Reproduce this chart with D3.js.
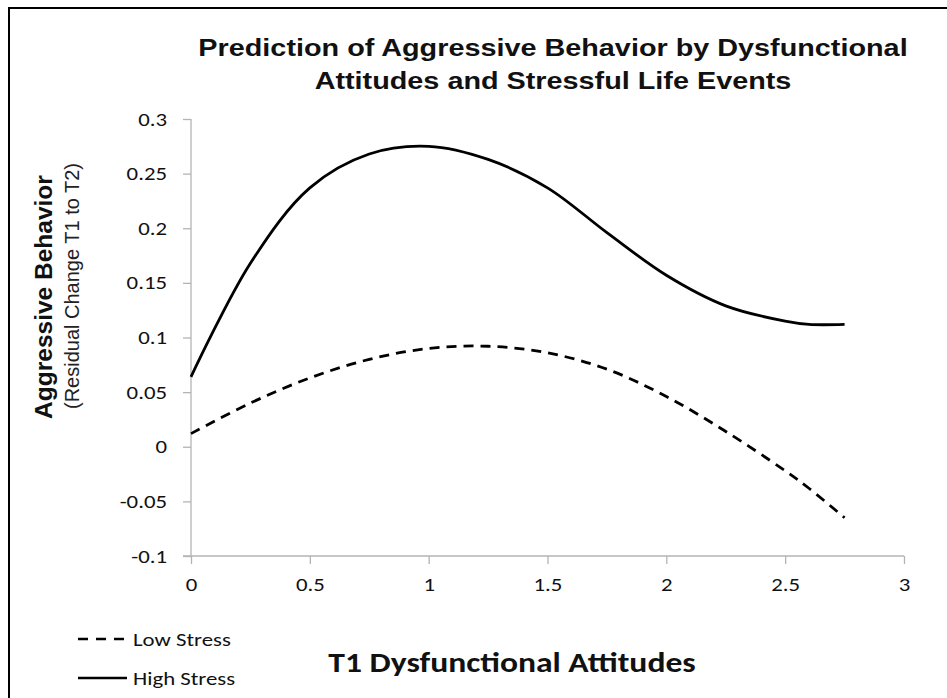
<!DOCTYPE html>
<html>
<head>
<meta charset="utf-8">
<script src="https://cdn.jsdelivr.net/npm/d3@7"></script>
<style>
  body { margin: 0; background: #fff; }
  svg { display: block; }
</style>
</head>
<body>
<div id="chart"></div>
<script>
// values
const attitudes = [0, 0.25, 0.5, 0.75, 1, 1.25, 1.5, 1.75, 2, 2.25, 2.5, 2.6, 2.75];
const lowStress = [0.012, 0.04, 0.063, 0.08, 0.09, 0.092, 0.086, 0.071, 0.046, 0.014, -0.022, -0.038, -0.065];
const highStress = [0.064, 0.168, 0.237, 0.268, 0.275, 0.263, 0.237, 0.196, 0.157, 0.129, 0.115, 0.112, 0.112];
const xTicks = [0, 0.5, 1, 1.5, 2, 2.5, 3];
const yTicks = [-0.1, -0.05, 0, 0.05, 0.1, 0.15, 0.2, 0.25, 0.3];
const seriesNames = ['Low Stress', 'High Stress'];

const width = 947;
const height = 698;
const plotLeft = 191; // x = 0
const plotRight = 904; // x = 3
const plotTop = 119; // y = 0.3
const plotBottom = 556; // y = -0.1
const stretch = 1.2; // the source picture is widened a bit, text included
const calibri = 'Carlito, Calibri, Lato, sans-serif';
const arial = '"Liberation Sans", Arial, sans-serif';

const svg = d3.select('#chart')
  .append('svg')
  .attr('width', width)
  .attr('height', height);

// outer frame
svg.append('rect')
  .attr('x', 9)
  .attr('y', 8)
  .attr('width', width + 20)
  .attr('height', height + 20)
  .attr('fill', 'none')
  .attr('stroke', '#000')
  .attr('stroke-width', 2);

const x = d3.scaleLinear().domain([0, 3]).range([plotLeft, plotRight]);
const y = d3.scaleLinear().domain([-0.1, 0.3]).range([plotBottom, plotTop]);

// plain hyphen for negatives, like the source
const fmt = (d) => String(+d.toFixed(2)).replace('\u2212', '-');

const yAxis = d3.axisLeft(y).tickValues(yTicks).tickSize(8).tickPadding(16).tickFormat(fmt);
const xAxis = d3.axisBottom(x).tickValues(xTicks).tickSize(8).tickPadding(14).tickFormat(fmt);

const gy = svg.append('g')
  .attr('transform', 'translate(' + plotLeft + ',0)')
  .call(yAxis);
const gx = svg.append('g')
  .attr('transform', 'translate(0,' + plotBottom + ')')
  .call(xAxis);

[gx, gy].forEach((g) => {
  g.select('.domain').attr('stroke', '#b4b4b4').attr('stroke-width', 1.3);
  g.selectAll('.tick line').attr('stroke', '#b4b4b4').attr('stroke-width', 1.3);
  g.selectAll('.tick text')
    .attr('fill', '#111')
    .style('font-family', calibri)
    .style('font-size', '19px')
    .attr('x', function () { return (+d3.select(this).attr('x') || 0) / stretch; })
    .attr('transform', 'scale(' + stretch + ',1)');
});
gy.select('.domain').attr('d', 'M0,' + plotTop + 'V' + plotBottom);
gx.select('.domain').attr('d', 'M' + (plotLeft - 8) + ',0H' + plotRight);

// lines
const line = d3.line()
  .x((d) => x(d[0]))
  .y((d) => y(d[1]))
  .curve(d3.curveCatmullRom.alpha(0.5));

const lowData = attitudes.map((a, i) => [a, lowStress[i]]);
const highData = attitudes.map((a, i) => [a, highStress[i]]);

svg.append('path')
  .datum(lowData)
  .attr('d', line)
  .attr('fill', 'none')
  .attr('stroke', '#000')
  .attr('stroke-width', 2.8)
  .attr('stroke-dasharray', '10,7');

svg.append('path')
  .datum(highData)
  .attr('d', line)
  .attr('fill', 'none')
  .attr('stroke', '#000')
  .attr('stroke-width', 2.8);

// title
const title = svg.append('text')
  .attr('transform', 'translate(553,0) scale(' + stretch + ',1)')
  .attr('text-anchor', 'middle')
  .style('font-family', arial)
  .style('font-weight', 'bold')
  .style('font-size', '24px')
  .attr('fill', '#111');
title.append('tspan').attr('x', 0).attr('y', 56).text('Prediction of Aggressive Behavior by Dysfunctional');
title.append('tspan').attr('x', 0).attr('y', 89).text('Attitudes and Stressful Life Events');

// y axis titles (not widened, the rotated text in the source is not)
svg.append('text')
  .attr('transform', 'translate(52,297) rotate(-90)')
  .attr('text-anchor', 'middle')
  .style('font-family', arial)
  .style('font-weight', 'bold')
  .style('font-size', '24.5px')
  .attr('fill', '#111')
  .text('Aggressive Behavior');

svg.append('text')
  .attr('transform', 'translate(79,286) rotate(-90)')
  .attr('text-anchor', 'middle')
  .style('font-family', arial)
  .style('font-size', '20px')
  .attr('fill', '#222')
  .text('(Residual Change T1 to T2)');

// x axis title
svg.append('text')
  .attr('transform', 'translate(512,672) scale(' + stretch + ',1)')
  .attr('text-anchor', 'middle')
  .style('font-family', calibri)
  .style('font-weight', 'bold')
  .style('font-size', '28px')
  .attr('fill', '#111')
  .text('T1 Dysfunctional Attitudes');

// legend
const legendRows = [
  { name: seriesNames[0], dash: '10,8', y: 639 },
  { name: seriesNames[1], dash: null, y: 678 }
];
legendRows.forEach((r) => {
  svg.append('line')
    .attr('x1', 78).attr('x2', 127)
    .attr('y1', r.y).attr('y2', r.y)
    .attr('stroke', '#000')
    .attr('stroke-width', 2.4)
    .attr('stroke-dasharray', r.dash);
  svg.append('text')
    .attr('transform', 'translate(133,' + (r.y + 7) + ') scale(' + stretch + ',1)')
    .style('font-family', calibri)
    .style('font-size', '19px')
    .attr('fill', '#111')
    .text(r.name);
});
</script>
</body>
</html>
